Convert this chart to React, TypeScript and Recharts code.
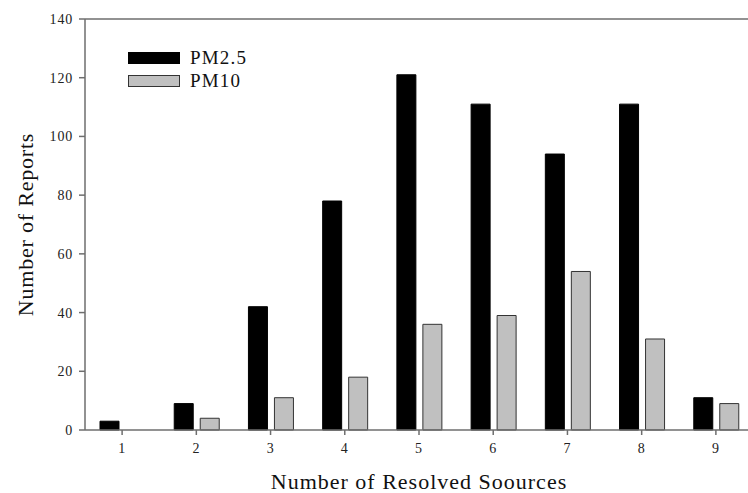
import React from "react";
import { BarChart, Bar, XAxis, YAxis, ReferenceLine, Label } from "recharts";

const categories = ["1", "2", "3", "4", "5", "6", "7", "8", "9"];
const pm25 = [3, 9, 42, 78, 121, 111, 94, 111, 11];
const pm10 = [0, 4, 11, 18, 36, 39, 54, 31, 9];
const yTicks = [0, 20, 40, 60, 80, 100, 120, 140];
const seriesNames = ["PM2.5", "PM10"];

const data = categories.map((c, i) => ({ name: c, pm25: pm25[i], pm10: pm10[i] }));

const FONT = "'Liberation Serif', 'DejaVu Serif', serif";
const AXIS = "#6e6e6e";
const COLORS = [
  { fill: "#000", stroke: "#000" },
  { fill: "#c0c0c0", stroke: "#333" },
];

const LegendOverlay = () => (
  <svg width={160} height={50} style={{ position: "absolute", left: 120, top: 46 }}>
    {seriesNames.map((n, i) => (
      <g key={n}>
        <rect x={8.5} y={6.5 + i * 23} width={51} height={11} fill={COLORS[i].fill} stroke={COLORS[i].stroke} strokeWidth={1} />
        <text x={70} y={18 + i * 23} fontFamily={FONT} fontSize={19} letterSpacing={1.2} fill="#111">
          {n}
        </text>
      </g>
    ))}
  </svg>
);

const tickStyle = { fill: "#222", fontFamily: FONT, fontSize: 14, letterSpacing: 0.8 };

export default function App() {
  return (
    <div style={{ position: "absolute", left: 0, top: 0, width: 748, height: 493, overflow: "hidden", background: "#fff" }}>
      <BarChart
        width={760}
        height={493}
        data={data}
        margin={{ top: 19, right: 7, bottom: 33, left: 0 }}
        barSize={19}
        barGap={7}
      >
        <XAxis
          dataKey="name"
          stroke={AXIS}
          strokeWidth={1.5}
          tickSize={5}
          tickMargin={8}
          height={30}
          tick={tickStyle}
          tickLine={{ stroke: AXIS, strokeWidth: 1.5 }}
        >
          <Label
            content={({ viewBox }: any) => (
              <text x={419} y={489} textAnchor="middle" fontFamily={FONT} fontSize={22} letterSpacing={1} fill="#111">
                Number of Resolved Soources
              </text>
            )}
          />
        </XAxis>
        <YAxis
          domain={[0, 140]}
          ticks={yTicks}
          width={85}
          stroke={AXIS}
          strokeWidth={1.5}
          tickSize={6}
          tickMargin={6}
          interval={0}
          tick={tickStyle}
          tickLine={{ stroke: AXIS, strokeWidth: 1.5 }}
        >
          <Label
            content={({ viewBox }: any) => (
              <text
                x={0}
                y={0}
                transform={`translate(33, ${viewBox.y + viewBox.height / 2}) rotate(-90)`}
                textAnchor="middle"
                fontFamily={FONT}
                fontSize={22}
                letterSpacing={0.8}
                fill="#111"
              >
                Number of Reports
              </text>
            )}
          />
        </YAxis>
        <ReferenceLine y={140} stroke={AXIS} strokeWidth={1.5} />
        <Bar dataKey="pm25" name={seriesNames[0]} fill={COLORS[0].fill} stroke={COLORS[0].stroke} strokeWidth={1} isAnimationActive={false} />
        <Bar dataKey="pm10" name={seriesNames[1]} fill={COLORS[1].fill} stroke={COLORS[1].stroke} strokeWidth={1} isAnimationActive={false} />
      </BarChart>
      <LegendOverlay />
    </div>
  );
}
